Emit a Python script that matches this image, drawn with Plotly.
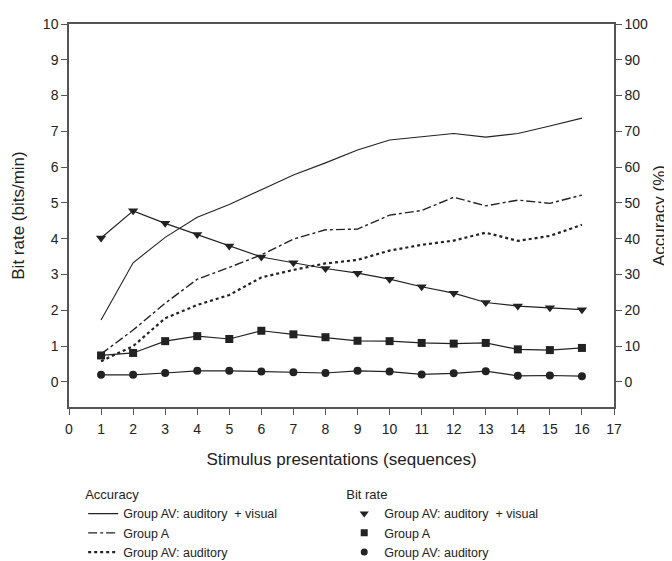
import plotly.graph_objects as go

x_seq = list(range(1, 17))

# Accuracy (%) - right axis
acc_av_visual = [17.3, 33.3, 40.4, 46.0, 49.6, 53.6, 57.8, 61.2, 64.8, 67.6, 68.4, 69.4, 68.4, 69.4, 71.5, 73.7]
acc_group_a = [7.8, 14.5, 22.0, 28.7, 32.0, 35.5, 39.9, 42.5, 42.7, 46.6, 47.9, 51.6, 49.2, 50.8, 49.9, 52.2]
acc_av_auditory = [5.8, 10.0, 17.8, 21.5, 24.3, 29.2, 31.3, 33.1, 34.1, 36.7, 38.3, 39.5, 41.7, 39.4, 40.8, 43.9]

# Bit rate (bits/min) - left axis
bit_av_visual = [4.02, 4.78, 4.43, 4.12, 3.80, 3.49, 3.33, 3.17, 3.04, 2.87, 2.66, 2.48, 2.22, 2.12, 2.07, 2.02]
bit_group_a = [0.74, 0.81, 1.14, 1.28, 1.20, 1.43, 1.33, 1.25, 1.15, 1.14, 1.09, 1.07, 1.09, 0.91, 0.89, 0.95]
bit_av_auditory = [0.20, 0.20, 0.25, 0.31, 0.31, 0.29, 0.27, 0.25, 0.31, 0.29, 0.21, 0.24, 0.30, 0.17, 0.18, 0.16]

acc_names = ["Group AV: auditory  + visual", "Group A", "Group AV: auditory"]
bit_names = ["Group AV: auditory  + visual", "Group A", "Group AV: auditory"]

INK = "#222222"
AX = "#555555"
FONT = "Liberation Sans, Arial, sans-serif"

fig = go.Figure()

# Accuracy lines (right axis)
acc_series = [acc_av_visual, acc_group_a, acc_av_auditory]
acc_styles = [("solid", 1.1), ("dashdot", 1.4), ("dot", 2.2)]
for vals, name, (dash, w) in zip(acc_series, acc_names, acc_styles):
    fig.add_trace(go.Scatter(
        x=x_seq, y=vals, name=name, mode="lines", yaxis="y2",
        line=dict(color=INK, width=w, dash=dash), legend="legend",
    ))

# Bit rate lines with markers (left axis)
bit_series = [bit_av_visual, bit_group_a, bit_av_auditory]
bit_symbols = [("triangle-down", 9), ("square", 8), ("circle", 8)]
for vals, name, (sym, sz) in zip(bit_series, bit_names, bit_symbols):
    fig.add_trace(go.Scatter(
        x=x_seq, y=vals, name=name, mode="lines+markers", yaxis="y",
        line=dict(color=INK, width=1.2),
        marker=dict(symbol=sym, size=sz, color=INK),
        showlegend=False,
    ))
    # marker-only legend proxy
    fig.add_trace(go.Scatter(
        x=[None], y=[None], name=name, mode="markers", yaxis="y",
        marker=dict(symbol=sym, size=sz - 1, color=INK),
        legend="legend2",
    ))

fig.update_layout(
    width=664, height=553,
    margin=dict(l=61, r=58, t=16, b=154, autoexpand=False),
    paper_bgcolor="white", plot_bgcolor="white",
    font=dict(family=FONT, size=14, color=INK),
    xaxis=dict(
        range=[0, 17], tickmode="linear", tick0=0, dtick=1,
        showline=True, linecolor=AX, linewidth=1.5, mirror=True,
        ticks="outside", ticklen=6, tickcolor=AX, ticklabelstandoff=2,
        showgrid=False, zeroline=False,
        title=dict(text="Stimulus presentations (sequences)", font=dict(size=17), standoff=18),
        tickfont=dict(size=14),
    ),
    yaxis=dict(
        range=[-0.7, 10], tickmode="linear", tick0=0, dtick=1,
        showline=True, linecolor=AX, linewidth=1.5,
        ticks="outside", ticklen=6, tickcolor=AX,
        showgrid=False, zeroline=False,
        title=dict(text="Bit rate (bits/min)", font=dict(size=17), standoff=14),
        tickfont=dict(size=14),
    ),
    yaxis2=dict(
        range=[-7, 100], tickmode="linear", tick0=0, dtick=10,
        overlaying="y", side="right",
        showline=True, linecolor=AX, linewidth=1.5,
        ticks="outside", ticklen=6, tickcolor=AX,
        showgrid=False, zeroline=False,
        title=dict(text="Accuracy (%)", font=dict(size=17), standoff=6),
        tickfont=dict(size=14),
    ),
    legend=dict(
        x=0.026, y=-0.196, xanchor="left", yanchor="top",
        title=dict(text="Accuracy", font=dict(size=13)),
        font=dict(size=12.5), bgcolor="rgba(0,0,0,0)",
        tracegroupgap=0, itemwidth=30,
    ),
    legend2=dict(
        x=0.505, y=-0.196, xanchor="left", yanchor="top",
        title=dict(text="Bit rate", font=dict(size=13)),
        font=dict(size=12.5), bgcolor="rgba(0,0,0,0)",
        tracegroupgap=0, itemwidth=30,
    ),
)

fig.write_html("out.html")
